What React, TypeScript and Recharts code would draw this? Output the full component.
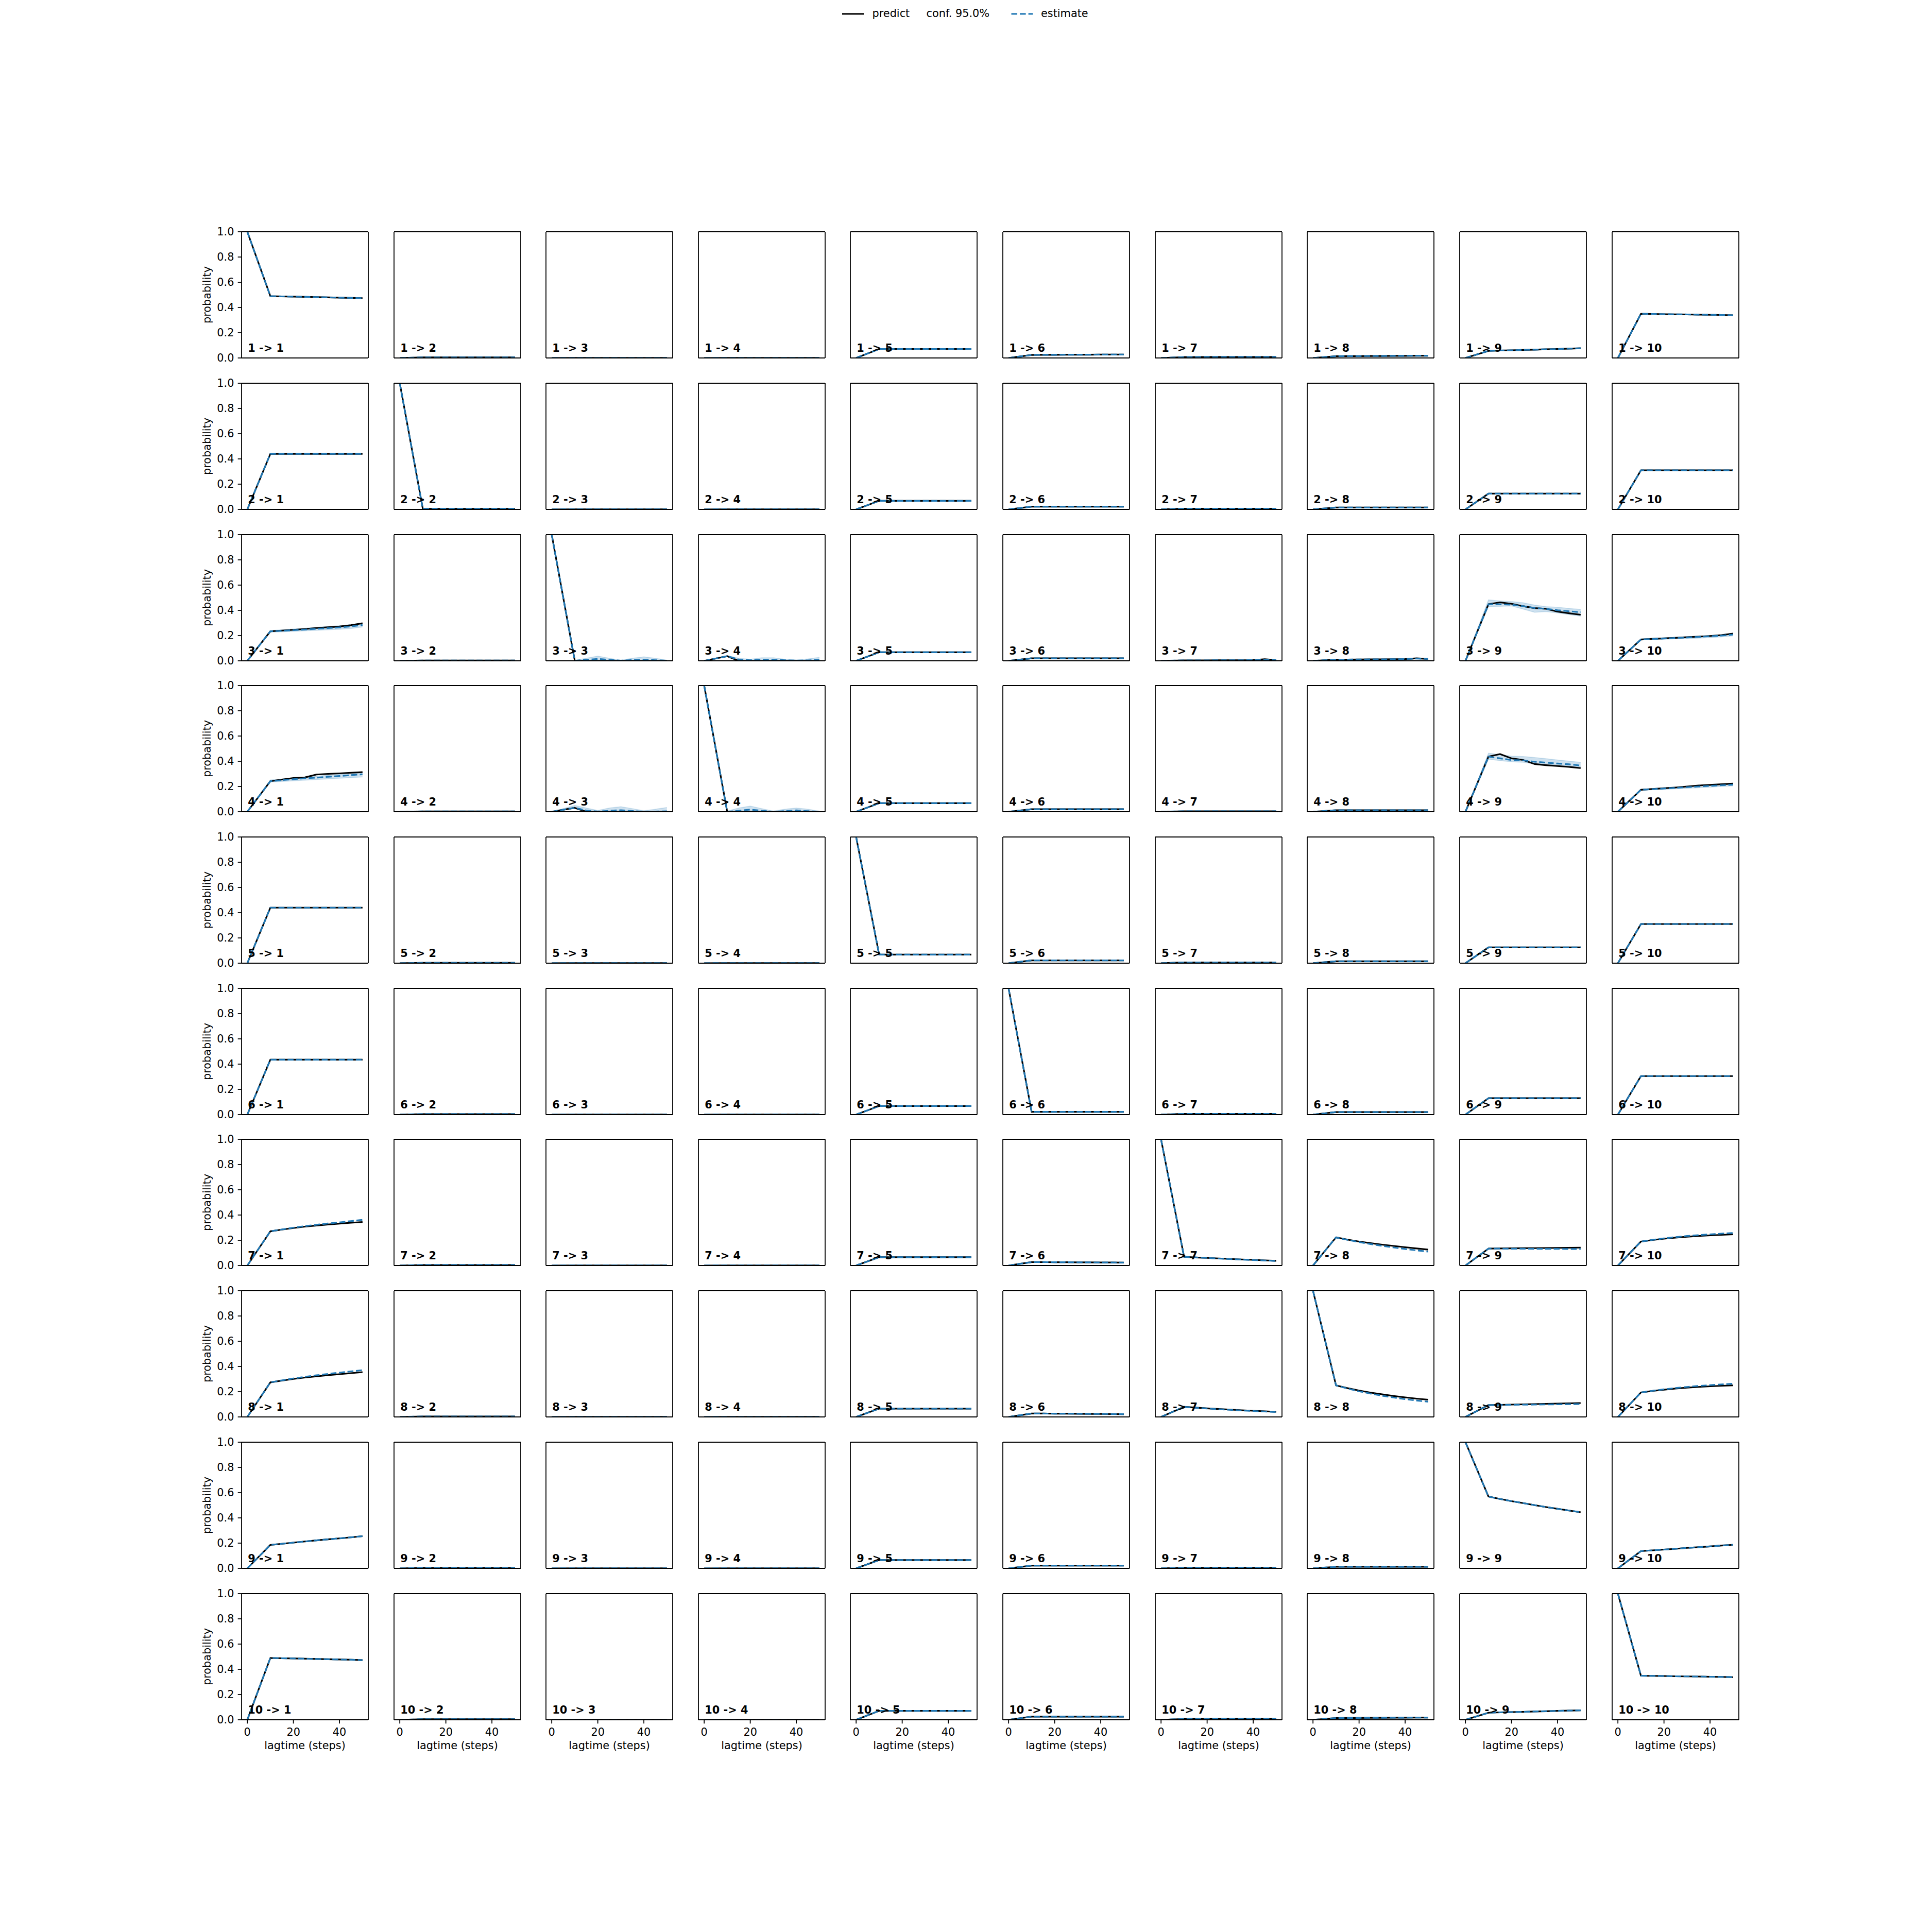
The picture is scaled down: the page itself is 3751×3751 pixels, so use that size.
import React from 'react';
import { ComposedChart, Line, Area, XAxis, YAxis, ReferenceLine } from 'recharts';

// ---------------- data ----------------
const LAGTIMES = [0, 10, 15, 20, 25, 30, 35, 40, 45, 50];
const STATES = ['1', '2', '3', '4', '5', '6', '7', '8', '9', '10'];
const X_TICKS = [0, 20, 40];
const Y_TICKS = [0, 0.2, 0.4, 0.6, 0.8, 1.0];
const LEGEND_LABELS = ['predict', 'conf. 95.0%', 'estimate'];
const X_LABEL = 'lagtime (steps)';
const Y_LABEL = 'probability';

// predictions, one row per target state (values at LAGTIMES)
const PREDICT_FROM_1 = [
  [1, 0.49, 0.488, 0.486, 0.484, 0.482, 0.48, 0.478, 0.476, 0.474],
  [0, 0.005, 0.005, 0.005, 0.005, 0.005, 0.005, 0.005, 0.005, 0.005],
  [0, 0.001, 0.001, 0.001, 0.001, 0.001, 0.001, 0.001, 0.001, 0.001],
  [0, 0.001, 0.001, 0.001, 0.001, 0.001, 0.001, 0.001, 0.001, 0.001],
  [0, 0.071, 0.071, 0.071, 0.071, 0.071, 0.071, 0.071, 0.071, 0.071],
  [0, 0.024, 0.025, 0.025, 0.026, 0.026, 0.026, 0.027, 0.027, 0.027],
  [0, 0.007, 0.007, 0.008, 0.008, 0.008, 0.008, 0.008, 0.008, 0.008],
  [0, 0.014, 0.015, 0.015, 0.016, 0.016, 0.017, 0.017, 0.018, 0.018],
  [0, 0.056, 0.059, 0.061, 0.064, 0.066, 0.069, 0.071, 0.074, 0.077],
  [0, 0.35, 0.349, 0.347, 0.346, 0.345, 0.343, 0.342, 0.341, 0.339],
];
const PREDICT_FROM_2 = [
  [0, 0.44, 0.44, 0.44, 0.44, 0.44, 0.44, 0.44, 0.44, 0.44],
  [1, 0.005, 0.005, 0.005, 0.005, 0.005, 0.005, 0.005, 0.005, 0.005],
  [0, 0.001, 0.001, 0.001, 0.001, 0.001, 0.001, 0.001, 0.001, 0.001],
  [0, 0.001, 0.001, 0.001, 0.001, 0.001, 0.001, 0.001, 0.001, 0.001],
  [0, 0.068, 0.068, 0.068, 0.068, 0.068, 0.068, 0.068, 0.068, 0.068],
  [0, 0.022, 0.022, 0.022, 0.022, 0.022, 0.022, 0.022, 0.022, 0.022],
  [0, 0.006, 0.006, 0.006, 0.006, 0.006, 0.006, 0.006, 0.006, 0.006],
  [0, 0.015, 0.015, 0.015, 0.015, 0.015, 0.015, 0.015, 0.015, 0.015],
  [0, 0.125, 0.125, 0.125, 0.125, 0.125, 0.125, 0.125, 0.125, 0.125],
  [0, 0.31, 0.31, 0.31, 0.31, 0.31, 0.31, 0.31, 0.31, 0.31],
];
const PREDICT_FROM_3 = [
  [0, 0.234, 0.24, 0.246, 0.252, 0.26, 0.266, 0.272, 0.282, 0.298],
  [0, 0.003, 0.003, 0.003, 0.003, 0.003, 0.003, 0.003, 0.003, 0.003],
  [1, 0.002, 0, 0, 0, 0, 0, 0, 0, 0],
  [0, 0.037, 0, 0, 0, 0, 0, 0, 0, 0],
  [0, 0.068, 0.068, 0.068, 0.068, 0.068, 0.068, 0.068, 0.068, 0.068],
  [0, 0.02, 0.02, 0.02, 0.02, 0.02, 0.02, 0.02, 0.02, 0.02],
  [0, 0.004, 0.004, 0.004, 0.005, 0.005, 0.005, 0.006, 0.013, 0.006],
  [0, 0.01, 0.01, 0.011, 0.012, 0.012, 0.013, 0.014, 0.02, 0.015],
  [0, 0.449, 0.463, 0.452, 0.433, 0.418, 0.412, 0.39, 0.377, 0.365],
  [0, 0.169, 0.174, 0.178, 0.182, 0.187, 0.192, 0.197, 0.204, 0.216],
];
const PREDICT_FROM_4 = [
  [0, 0.242, 0.255, 0.267, 0.272, 0.295, 0.3, 0.304, 0.309, 0.314],
  [0, 0.003, 0.003, 0.003, 0.003, 0.003, 0.003, 0.003, 0.003, 0.003],
  [0, 0.031, 0, 0, 0, 0, 0, 0, 0, 0],
  [1, 0, 0, 0, 0, 0, 0, 0, 0, 0],
  [0, 0.068, 0.068, 0.068, 0.068, 0.068, 0.068, 0.068, 0.068, 0.068],
  [0, 0.02, 0.02, 0.02, 0.02, 0.02, 0.02, 0.02, 0.02, 0.02],
  [0, 0.004, 0.004, 0.004, 0.004, 0.004, 0.004, 0.004, 0.004, 0.004],
  [0, 0.012, 0.012, 0.012, 0.012, 0.012, 0.012, 0.012, 0.012, 0.012],
  [0, 0.437, 0.457, 0.423, 0.41, 0.378, 0.369, 0.362, 0.355, 0.346],
  [0, 0.174, 0.18, 0.186, 0.192, 0.2, 0.208, 0.213, 0.218, 0.223],
];
const PREDICT_FROM_5 = [
  [0, 0.44, 0.44, 0.44, 0.44, 0.44, 0.44, 0.44, 0.44, 0.44],
  [0, 0.003, 0.003, 0.003, 0.003, 0.003, 0.003, 0.003, 0.003, 0.003],
  [0, 0.001, 0.001, 0.001, 0.001, 0.001, 0.001, 0.001, 0.001, 0.001],
  [0, 0.001, 0.001, 0.001, 0.001, 0.001, 0.001, 0.001, 0.001, 0.001],
  [1, 0.068, 0.068, 0.068, 0.068, 0.068, 0.068, 0.068, 0.068, 0.068],
  [0, 0.022, 0.022, 0.022, 0.022, 0.022, 0.022, 0.022, 0.022, 0.022],
  [0, 0.006, 0.006, 0.006, 0.006, 0.006, 0.006, 0.006, 0.006, 0.006],
  [0, 0.015, 0.015, 0.015, 0.015, 0.015, 0.015, 0.015, 0.015, 0.015],
  [0, 0.125, 0.125, 0.125, 0.125, 0.125, 0.125, 0.125, 0.125, 0.125],
  [0, 0.31, 0.31, 0.31, 0.31, 0.31, 0.31, 0.31, 0.31, 0.31],
];
const PREDICT_FROM_6 = [
  [0, 0.435, 0.435, 0.435, 0.435, 0.435, 0.435, 0.435, 0.435, 0.435],
  [0, 0.004, 0.004, 0.004, 0.004, 0.004, 0.004, 0.004, 0.004, 0.004],
  [0, 0.001, 0.001, 0.001, 0.001, 0.001, 0.001, 0.001, 0.001, 0.001],
  [0, 0.001, 0.001, 0.001, 0.001, 0.001, 0.001, 0.001, 0.001, 0.001],
  [0, 0.068, 0.068, 0.068, 0.068, 0.068, 0.068, 0.068, 0.068, 0.068],
  [1, 0.022, 0.022, 0.022, 0.022, 0.022, 0.022, 0.022, 0.022, 0.022],
  [0, 0.006, 0.006, 0.006, 0.006, 0.006, 0.006, 0.006, 0.006, 0.006],
  [0, 0.02, 0.02, 0.02, 0.02, 0.02, 0.02, 0.02, 0.02, 0.02],
  [0, 0.13, 0.13, 0.13, 0.13, 0.13, 0.13, 0.13, 0.13, 0.13],
  [0, 0.305, 0.305, 0.305, 0.305, 0.305, 0.305, 0.305, 0.305, 0.305],
];
const PREDICT_FROM_7 = [
  [0, 0.271, 0.285, 0.297, 0.308, 0.317, 0.325, 0.332, 0.339, 0.345],
  [0, 0.004, 0.004, 0.004, 0.004, 0.004, 0.004, 0.004, 0.004, 0.004],
  [0, 0.001, 0.001, 0.001, 0.001, 0.001, 0.001, 0.001, 0.001, 0.001],
  [0, 0.001, 0.001, 0.001, 0.001, 0.001, 0.001, 0.001, 0.001, 0.001],
  [0, 0.066, 0.066, 0.066, 0.066, 0.066, 0.066, 0.066, 0.066, 0.066],
  [0, 0.027, 0.027, 0.026, 0.026, 0.025, 0.025, 0.024, 0.024, 0.023],
  [1, 0.069, 0.064, 0.06, 0.056, 0.052, 0.048, 0.045, 0.041, 0.037],
  [0, 0.223, 0.205, 0.19, 0.177, 0.165, 0.155, 0.145, 0.135, 0.126],
  [0, 0.134, 0.135, 0.136, 0.137, 0.138, 0.139, 0.14, 0.141, 0.142],
  [0, 0.19, 0.202, 0.212, 0.221, 0.228, 0.234, 0.239, 0.243, 0.247],
];
const PREDICT_FROM_8 = [
  [0, 0.274, 0.288, 0.301, 0.312, 0.322, 0.331, 0.339, 0.347, 0.355],
  [0, 0.004, 0.004, 0.004, 0.004, 0.004, 0.004, 0.004, 0.004, 0.004],
  [0, 0.001, 0.001, 0.001, 0.001, 0.001, 0.001, 0.001, 0.001, 0.001],
  [0, 0.001, 0.001, 0.001, 0.001, 0.001, 0.001, 0.001, 0.001, 0.001],
  [0, 0.066, 0.066, 0.066, 0.066, 0.066, 0.066, 0.066, 0.066, 0.066],
  [0, 0.027, 0.027, 0.026, 0.026, 0.025, 0.024, 0.024, 0.023, 0.022],
  [0, 0.08, 0.074, 0.068, 0.063, 0.058, 0.053, 0.049, 0.045, 0.041],
  [1, 0.25, 0.228, 0.209, 0.193, 0.179, 0.166, 0.155, 0.145, 0.137],
  [0, 0.094, 0.096, 0.098, 0.1, 0.102, 0.104, 0.106, 0.108, 0.11],
  [0, 0.194, 0.206, 0.216, 0.225, 0.232, 0.238, 0.243, 0.247, 0.25],
];
const PREDICT_FROM_9 = [
  [0, 0.186, 0.195, 0.204, 0.213, 0.222, 0.23, 0.238, 0.246, 0.255],
  [0, 0.004, 0.004, 0.004, 0.004, 0.004, 0.004, 0.004, 0.004, 0.004],
  [0, 0.001, 0.001, 0.001, 0.001, 0.001, 0.001, 0.001, 0.001, 0.001],
  [0, 0.001, 0.001, 0.001, 0.001, 0.001, 0.001, 0.001, 0.001, 0.001],
  [0, 0.066, 0.066, 0.066, 0.066, 0.066, 0.066, 0.066, 0.066, 0.066],
  [0, 0.022, 0.022, 0.022, 0.022, 0.022, 0.022, 0.022, 0.022, 0.022],
  [0, 0.005, 0.005, 0.005, 0.005, 0.005, 0.005, 0.005, 0.005, 0.005],
  [0, 0.012, 0.012, 0.012, 0.012, 0.012, 0.012, 0.012, 0.012, 0.012],
  [1, 0.569, 0.55, 0.533, 0.517, 0.501, 0.486, 0.472, 0.458, 0.445],
  [0, 0.137, 0.143, 0.149, 0.155, 0.162, 0.168, 0.174, 0.181, 0.187],
];
const PREDICT_FROM_10 = [
  [0, 0.49, 0.488, 0.486, 0.484, 0.482, 0.48, 0.478, 0.476, 0.473],
  [0, 0.005, 0.005, 0.005, 0.005, 0.005, 0.005, 0.005, 0.005, 0.005],
  [0, 0.001, 0.001, 0.001, 0.001, 0.001, 0.001, 0.001, 0.001, 0.001],
  [0, 0.001, 0.001, 0.001, 0.001, 0.001, 0.001, 0.001, 0.001, 0.001],
  [0, 0.071, 0.071, 0.071, 0.071, 0.071, 0.071, 0.071, 0.071, 0.071],
  [0, 0.025, 0.025, 0.025, 0.025, 0.025, 0.025, 0.025, 0.025, 0.025],
  [0, 0.007, 0.007, 0.007, 0.007, 0.007, 0.007, 0.007, 0.007, 0.007],
  [0, 0.014, 0.015, 0.015, 0.016, 0.016, 0.017, 0.017, 0.018, 0.018],
  [0, 0.056, 0.059, 0.061, 0.063, 0.066, 0.068, 0.071, 0.073, 0.075],
  [1, 0.349, 0.348, 0.347, 0.345, 0.344, 0.343, 0.341, 0.34, 0.338],
];

// estimates (where they visibly differ from the predictions)
const ESTIMATE_FROM_3 = [
  [0, 0.234, 0.238, 0.243, 0.248, 0.254, 0.259, 0.265, 0.272, 0.284],
  [0, 0.003, 0.003, 0.003, 0.003, 0.003, 0.003, 0.003, 0.003, 0.003],
  [1, 0.001, 0.008, 0.015, 0.008, 0.002, 0.006, 0.01, 0.005, 0.001],
  [0, 0.037, 0.01, 0.005, 0.01, 0.01, 0.005, 0.002, 0.004, 0.008],
  [0, 0.068, 0.068, 0.068, 0.068, 0.068, 0.068, 0.068, 0.068, 0.068],
  [0, 0.02, 0.02, 0.02, 0.02, 0.02, 0.02, 0.02, 0.02, 0.02],
  [0, 0.004, 0.004, 0.004, 0.005, 0.005, 0.005, 0.006, 0.01, 0.006],
  [0, 0.01, 0.01, 0.011, 0.012, 0.012, 0.013, 0.014, 0.018, 0.015],
  [0, 0.449, 0.448, 0.445, 0.433, 0.419, 0.412, 0.401, 0.393, 0.385],
  [0, 0.169, 0.173, 0.177, 0.181, 0.185, 0.19, 0.195, 0.2, 0.208],
];
const ESTIMATE_FROM_4 = [
  [0, 0.242, 0.25, 0.258, 0.265, 0.27, 0.277, 0.283, 0.29, 0.297],
  [0, 0.003, 0.003, 0.003, 0.003, 0.003, 0.003, 0.003, 0.003, 0.003],
  [0, 0.031, 0.01, 0.002, 0.008, 0.012, 0.006, 0.001, 0.002, 0.004],
  [1, 0, 0.008, 0.017, 0.008, 0, 0.005, 0.011, 0.005, 0],
  [0, 0.068, 0.068, 0.068, 0.068, 0.068, 0.068, 0.068, 0.068, 0.068],
  [0, 0.02, 0.02, 0.02, 0.02, 0.02, 0.02, 0.02, 0.02, 0.02],
  [0, 0.004, 0.004, 0.004, 0.004, 0.004, 0.004, 0.004, 0.004, 0.004],
  [0, 0.012, 0.012, 0.012, 0.012, 0.012, 0.012, 0.012, 0.012, 0.012],
  [0, 0.437, 0.423, 0.41, 0.407, 0.396, 0.389, 0.382, 0.376, 0.366],
  [0, 0.174, 0.179, 0.184, 0.189, 0.195, 0.2, 0.205, 0.21, 0.215],
];
const ESTIMATE_FROM_7 = [
  [0, 0.271, 0.286, 0.3, 0.312, 0.323, 0.333, 0.342, 0.352, 0.362],
  [0, 0.004, 0.004, 0.004, 0.004, 0.004, 0.004, 0.004, 0.004, 0.004],
  [0, 0.001, 0.001, 0.001, 0.001, 0.001, 0.001, 0.001, 0.001, 0.001],
  [0, 0.001, 0.001, 0.001, 0.001, 0.001, 0.001, 0.001, 0.001, 0.001],
  [0, 0.066, 0.066, 0.066, 0.066, 0.066, 0.066, 0.066, 0.066, 0.066],
  [0, 0.027, 0.027, 0.026, 0.026, 0.025, 0.025, 0.024, 0.024, 0.023],
  [1, 0.069, 0.064, 0.06, 0.055, 0.051, 0.047, 0.043, 0.04, 0.036],
  [0, 0.223, 0.203, 0.186, 0.17, 0.156, 0.143, 0.131, 0.12, 0.11],
  [0, 0.134, 0.134, 0.133, 0.133, 0.132, 0.132, 0.132, 0.131, 0.131],
  [0, 0.19, 0.203, 0.215, 0.225, 0.234, 0.241, 0.247, 0.253, 0.258],
];
const ESTIMATE_FROM_8 = [
  [0, 0.274, 0.29, 0.305, 0.318, 0.33, 0.341, 0.351, 0.361, 0.371],
  [0, 0.004, 0.004, 0.004, 0.004, 0.004, 0.004, 0.004, 0.004, 0.004],
  [0, 0.001, 0.001, 0.001, 0.001, 0.001, 0.001, 0.001, 0.001, 0.001],
  [0, 0.001, 0.001, 0.001, 0.001, 0.001, 0.001, 0.001, 0.001, 0.001],
  [0, 0.066, 0.066, 0.066, 0.066, 0.066, 0.066, 0.066, 0.066, 0.066],
  [0, 0.027, 0.027, 0.026, 0.026, 0.025, 0.024, 0.024, 0.023, 0.022],
  [0, 0.08, 0.073, 0.067, 0.061, 0.056, 0.051, 0.047, 0.043, 0.039],
  [1, 0.25, 0.225, 0.203, 0.185, 0.168, 0.154, 0.141, 0.13, 0.121],
  [0, 0.094, 0.095, 0.096, 0.097, 0.098, 0.099, 0.1, 0.101, 0.102],
  [0, 0.194, 0.207, 0.219, 0.229, 0.238, 0.246, 0.252, 0.258, 0.263],
];

// 95% confidence bands that are visible in the picture
const BAND_3_1_LO = [0, 0.228, 0.23, 0.234, 0.238, 0.242, 0.246, 0.25, 0.256, 0.268];
const BAND_3_1_HI = [0, 0.24, 0.246, 0.252, 0.258, 0.265, 0.272, 0.279, 0.288, 0.3];
const BAND_3_3_LO = [1, 0, 0, 0, 0, 0, 0, 0, 0, 0];
const BAND_3_3_HI = [1, 0.004, 0.02, 0.038, 0.02, 0.005, 0.02, 0.032, 0.02, 0.005];
const BAND_3_4_LO = [0, 0.034, 0, 0, 0, 0, 0, 0, 0, 0];
const BAND_3_4_HI = [0, 0.042, 0.02, 0.012, 0.025, 0.025, 0.012, 0.008, 0.015, 0.028];
const BAND_3_9_LO = [0, 0.43, 0.432, 0.435, 0.41, 0.385, 0.39, 0.38, 0.366, 0.354];
const BAND_3_9_HI = [0, 0.483, 0.475, 0.469, 0.46, 0.442, 0.43, 0.425, 0.415, 0.408];
const BAND_3_10_LO = [0, 0.165, 0.168, 0.171, 0.174, 0.177, 0.18, 0.184, 0.19, 0.198];
const BAND_3_10_HI = [0, 0.175, 0.179, 0.183, 0.187, 0.191, 0.196, 0.2, 0.206, 0.216];
const BAND_4_1_LO = [0, 0.236, 0.24, 0.245, 0.25, 0.255, 0.26, 0.265, 0.27, 0.275];
const BAND_4_1_HI = [0, 0.252, 0.259, 0.266, 0.274, 0.282, 0.29, 0.297, 0.304, 0.31];
const BAND_4_3_LO = [0, 0.026, 0, 0, 0, 0, 0, 0, 0, 0];
const BAND_4_3_HI = [0, 0.05, 0.03, 0.01, 0.03, 0.04, 0.025, 0.008, 0.02, 0.034];
const BAND_4_4_LO = [1, 0, 0, 0, 0, 0, 0, 0, 0, 0];
const BAND_4_4_HI = [1, 0.005, 0.03, 0.045, 0.025, 0.005, 0.02, 0.03, 0.02, 0.004];
const BAND_4_9_LO = [0, 0.416, 0.405, 0.396, 0.392, 0.38, 0.375, 0.369, 0.362, 0.355];
const BAND_4_9_HI = [0, 0.464, 0.452, 0.441, 0.438, 0.43, 0.42, 0.41, 0.401, 0.392];
const BAND_4_10_LO = [0, 0.17, 0.174, 0.178, 0.182, 0.186, 0.19, 0.195, 0.2, 0.205];
const BAND_4_10_HI = [0, 0.178, 0.184, 0.19, 0.196, 0.202, 0.208, 0.213, 0.218, 0.222];

const PREDICT_ROWS = [
  PREDICT_FROM_1, PREDICT_FROM_2, PREDICT_FROM_3, PREDICT_FROM_4, PREDICT_FROM_5,
  PREDICT_FROM_6, PREDICT_FROM_7, PREDICT_FROM_8, PREDICT_FROM_9, PREDICT_FROM_10,
];
const ESTIMATE_ROWS = [
  PREDICT_FROM_1, PREDICT_FROM_2, ESTIMATE_FROM_3, ESTIMATE_FROM_4, PREDICT_FROM_5,
  PREDICT_FROM_6, ESTIMATE_FROM_7, ESTIMATE_FROM_8, PREDICT_FROM_9, PREDICT_FROM_10,
];
const BAND_TABLE: Record<string, [number[], number[]]> = {
  '3-1': [BAND_3_1_LO, BAND_3_1_HI],
  '3-3': [BAND_3_3_LO, BAND_3_3_HI],
  '3-4': [BAND_3_4_LO, BAND_3_4_HI],
  '3-9': [BAND_3_9_LO, BAND_3_9_HI],
  '3-10': [BAND_3_10_LO, BAND_3_10_HI],
  '4-1': [BAND_4_1_LO, BAND_4_1_HI],
  '4-3': [BAND_4_3_LO, BAND_4_3_HI],
  '4-4': [BAND_4_4_LO, BAND_4_4_HI],
  '4-9': [BAND_4_9_LO, BAND_4_9_HI],
  '4-10': [BAND_4_10_LO, BAND_4_10_HI],
};

// ---------------- layout ----------------
const W = 3751;
const AX_LEFT0 = 468.9;
const AX_W = 246;
const COL_STEP = 295.63;
const AX_TOP0 = 450.1;
const AX_H = 245;
const ROW_STEP = 293.72;
const YW = 110;
const TM = 24;
const RM = 24;
const XH = 80;
const FONT = "'DejaVu Sans', sans-serif";
const FS = 20.83;
const BLUE = '#1f77b4';
const SPINE = 1.8;
const LW = 3.125;
const DASH = '11.56 5';

const colLeft = (c: number) => Math.round(AX_LEFT0 + c * COL_STEP);
const rowTop = (r: number) => Math.round(AX_TOP0 + r * ROW_STEP);

const tickStyle = { fill: '#000', fontSize: FS, fontFamily: FONT };

function Panel({ r, c }: { r: number; c: number }) {
  const pred = PREDICT_ROWS[r][c];
  const est = ESTIMATE_ROWS[r][c];
  const band = BAND_TABLE[`${STATES[r]}-${STATES[c]}`];
  const data = LAGTIMES.map((t, k) => ({
    t,
    predict: pred[k],
    estimate: est[k],
    band: band ? [band[0][k], band[1][k]] : null,
  }));
  const axL = colLeft(c);
  const axT = rowTop(r);
  const isBottom = r === 9;
  const isLeft = c === 0;
  return (
    <div style={{ position: 'absolute', left: axL - YW, top: axT - TM }}>
      <ComposedChart
        width={YW + AX_W + RM}
        height={TM + AX_H + XH}
        data={data}
        margin={{ top: TM, right: RM, bottom: 0, left: 0 }}
      >
        <XAxis
          dataKey="t"
          type="number"
          domain={[-2.5, 52.5]}
          allowDataOverflow
          ticks={X_TICKS}
          height={XH}
          tickSize={7.3}
          tickMargin={8.8}
          axisLine={{ stroke: '#000', strokeWidth: SPINE }}
          tickLine={{ stroke: '#000', strokeWidth: SPINE }}
          tick={isBottom ? tickStyle : false}
          interval={0}
        />
        <YAxis
          type="number"
          domain={[0, 1]}
          allowDataOverflow
          ticks={Y_TICKS}
          width={YW}
          tickSize={7.3}
          tickMargin={7.3}
          tickFormatter={(v: number) => v.toFixed(1)}
          axisLine={{ stroke: '#000', strokeWidth: SPINE }}
          tickLine={{ stroke: '#000', strokeWidth: SPINE }}
          tick={isLeft ? tickStyle : false}
          interval={0}
        />
        {band && (
          <Area
            dataKey="band"
            type="linear"
            stroke={BLUE}
            strokeOpacity={0.2}
            strokeWidth={1.5}
            fill={BLUE}
            fillOpacity={0.22}
            isAnimationActive={false}
            dot={false}
            activeDot={false}
          />
        )}
        <Line
          dataKey="predict"
          type="linear"
          stroke="#000"
          strokeWidth={LW}
          strokeLinejoin="round"
          dot={false}
          activeDot={false}
          isAnimationActive={false}
        />
        <Line
          dataKey="estimate"
          type="linear"
          stroke={BLUE}
          strokeWidth={LW}
          strokeDasharray={DASH}
          strokeLinejoin="round"
          dot={false}
          activeDot={false}
          isAnimationActive={false}
        />
        <ReferenceLine y={1} stroke="#000" strokeWidth={SPINE} />
        <ReferenceLine x={52.5} stroke="#000" strokeWidth={SPINE} />
      </ComposedChart>
    </div>
  );
}

function Overlay() {
  const names = [];
  for (let r = 0; r < 10; r++) {
    for (let c = 0; c < 10; c++) {
      const axL = colLeft(c);
      const axT = rowTop(r);
      names.push(
        <text
          key={`n${r}-${c}`}
          x={axL + 0.05 * AX_W}
          y={axT + AX_H - 0.05 * AX_H}
          fontWeight="bold"
          fontSize={FS}
          fontFamily={FONT}
          fill="#000"
        >
          {`${STATES[r]} -> ${STATES[c]}`}
        </text>
      );
    }
  }
  const ylabels = STATES.map((s, r) => {
    const cy = rowTop(r) + AX_H / 2;
    return (
      <text
        key={`y${s}`}
        transform={`translate(408.5, ${cy}) rotate(-90)`}
        textAnchor="middle"
        fontSize={FS}
        fontFamily={FONT}
        fill="#000"
      >
        {Y_LABEL}
      </text>
    );
  });
  const xlabels = STATES.map((s, c) => {
    const cx = colLeft(c) + AX_W / 2;
    const bottom = rowTop(9) + AX_H;
    return (
      <text
        key={`x${s}`}
        x={cx}
        y={bottom + 56.5}
        textAnchor="middle"
        fontSize={FS}
        fontFamily={FONT}
        fill="#000"
      >
        {X_LABEL}
      </text>
    );
  });
  return (
    <svg
      width={W}
      height={W}
      style={{ position: 'absolute', left: 0, top: 0, pointerEvents: 'none' }}
    >
      {names}
      {ylabels}
      {xlabels}
      {/* legend */}
      <line x1={1635} y1={27} x2={1677} y2={27} stroke="#000" strokeWidth={LW} />
      <text x={1693.5} y={32.5} fontSize={FS} fontFamily={FONT} fill="#000">
        {LEGEND_LABELS[0]}
      </text>
      <text x={1798.5} y={32.5} fontSize={FS} fontFamily={FONT} fill="#000">
        {LEGEND_LABELS[1]}
      </text>
      <line
        x1={1963.5}
        y1={27}
        x2={2005.2}
        y2={27}
        stroke={BLUE}
        strokeWidth={LW}
        strokeDasharray={DASH}
      />
      <text x={2021} y={32.5} fontSize={FS} fontFamily={FONT} fill="#000">
        {LEGEND_LABELS[2]}
      </text>
    </svg>
  );
}

export default function App() {
  const panels = [];
  for (let r = 0; r < 10; r++) {
    for (let c = 0; c < 10; c++) {
      panels.push(<Panel key={`${r}-${c}`} r={r} c={c} />);
    }
  }
  return (
    <div
      style={{
        position: 'absolute',
        left: 0,
        top: 0,
        width: W,
        height: W,
        background: '#fff',
        fontFamily: FONT,
      }}
    >
      {panels}
      <Overlay />
    </div>
  );
}
